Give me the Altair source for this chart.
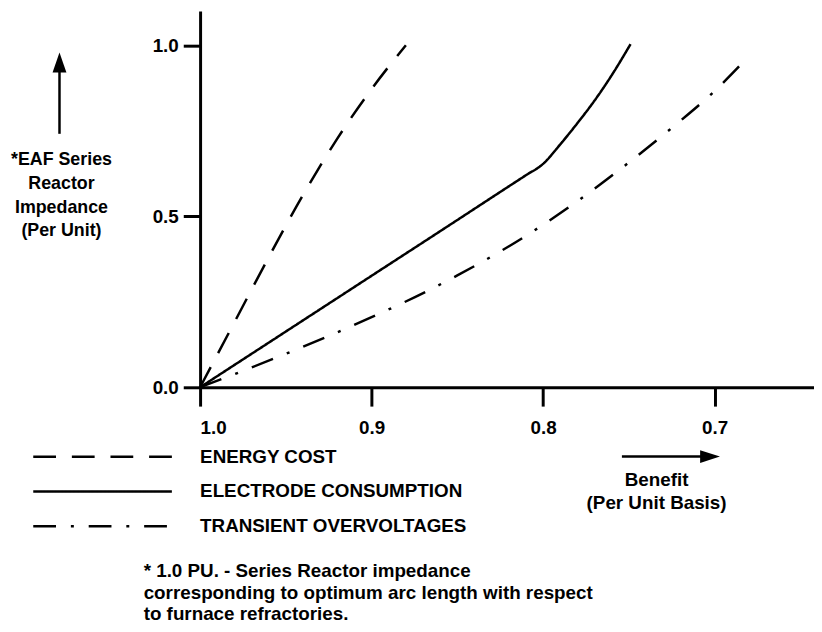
import altair as alt
import pandas as pd

FONT = "Liberation Sans"

series_names = ["ENERGY COST", "ELECTRODE CONSUMPTION", "TRANSIENT OVERVOLTAGES"]

energy_x = [1.0, 0.98, 0.96, 0.94, 0.92, 0.90, 0.88]
energy_y = [0.0, 0.19, 0.38, 0.562, 0.727, 0.872, 1.0]

electrode_x = [1.0, 0.95, 0.90, 0.85, 0.825, 0.81, 0.80, 0.79, 0.78, 0.77, 0.76, 0.749]
electrode_y = [0.0, 0.163, 0.326, 0.489, 0.571, 0.620, 0.653, 0.71, 0.772, 0.838, 0.912, 1.003]

transient_x = [1.0, 0.975, 0.95, 0.925, 0.90, 0.875, 0.85, 0.825, 0.80, 0.775, 0.75, 0.725, 0.70, 0.68]
transient_y = [0.0, 0.048, 0.098, 0.150, 0.205, 0.263, 0.327, 0.397, 0.475, 0.562, 0.657, 0.758, 0.866, 0.968]

x_ticks = [1.0, 0.9, 0.8, 0.7]
y_ticks = [0.0, 0.5, 1.0]

rows = []
for name, xs, ys in zip(series_names, [energy_x, electrode_x, transient_x],
                        [energy_y, electrode_y, transient_y]):
    for i, (a, b) in enumerate(zip(xs, ys)):
        rows.append({"series": name, "benefit": a, "impedance": b, "i": i})
df = pd.DataFrame(rows)

axis_common = dict(title=None, grid=False, domainWidth=3, domainColor="black",
                   tickWidth=3, tickColor="black", labelFont=FONT, labelFontSize=19,
                   labelFontWeight="bold", labelColor="black", format=".1f")

lines = alt.Chart(df).mark_line(strokeWidth=2.5, color="black", interpolate="monotone").encode(
    x=alt.X("benefit:Q", scale=alt.Scale(domain=[1.0, 0.642], nice=False, zero=False),
            axis=alt.Axis(values=x_ticks, tickSize=19, labelPadding=13, **axis_common)),
    y=alt.Y("impedance:Q", scale=alt.Scale(domain=[0, 1.1], nice=False, zero=False),
            axis=alt.Axis(values=y_ticks, tickSize=17, labelPadding=5, **axis_common)),
    strokeDash=alt.StrokeDash(
        "series:N",
        scale=alt.Scale(domain=series_names, range=[[23, 16], [1, 0], [23, 15, 3, 15]]),
        legend=alt.Legend(title=None, orient="none", legendX=-170, legendY=433,
                          symbolType="stroke", symbolSize=19600, symbolStrokeWidth=2.5,
                          symbolStrokeColor="black", clipHeight=34.5, rowPadding=0,
                          labelOffset=27, labelFont=FONT, labelFontSize=19,
                          labelFontWeight="bold", labelLimit=0,
                          labelColor="black", padding=0)),
    order="i:Q",
)

one = pd.DataFrame({"a": [0]})


def txt(s, x, y, align="center", size=19, weight="bold"):
    return alt.Chart(one).mark_text(text=s, font=FONT, fontSize=size, fontWeight=weight,
                                    align=align, baseline="middle", color="black").encode(
        x=alt.value(x), y=alt.value(y))


def hline(x1, x2, y):
    return alt.Chart(one).mark_rule(strokeWidth=2.5, color="black").encode(
        x=alt.value(x1), x2=alt.value(x2), y=alt.value(y))


def vline(x, y1, y2):
    return alt.Chart(one).mark_rule(strokeWidth=2.5, color="black").encode(
        x=alt.value(x), y=alt.value(y1), y2=alt.value(y2))


def head(shape, x, y):
    return alt.Chart(one).mark_point(shape=shape, filled=True, size=400, color="black",
                                     opacity=1, strokeWidth=0).encode(
        x=alt.value(x), y=alt.value(y))


annotations = [
    vline(-142, 124, 60),
    head("M0,-1L0.7,1L-0.7,1Z", -142, 52),
    txt("*EAF Series", -140, 150, size=18),
    txt("Reactor", -140, 175, size=18),
    txt("Impedance", -140, 199, size=18),
    txt("(Per Unit)", -140, 222, size=18),
    hline(426, 508, 450),
    head("M1,0L-1,-0.65L-1,0.65Z", 515, 450),
    txt("Benefit", 461, 474),
    txt("(Per Unit Basis)", 461, 497),
    txt("* 1.0 PU. - Series Reactor impedance", -57, 566, align="left"),
    txt("corresponding to optimum arc length with respect", -57, 588, align="left"),
    txt("to furnace refractories.", -57, 609, align="left"),
]

chart = alt.layer(lines, *annotations).properties(
    width=620, height=380,
    autosize=alt.AutoSizeParams(type="none"),
    padding={"left": 194, "top": 0, "right": 0, "bottom": 236},
    background="white",
).configure_view(stroke=None)

chart.save("out.html", embed_options={"renderer": "svg", "actions": False})
